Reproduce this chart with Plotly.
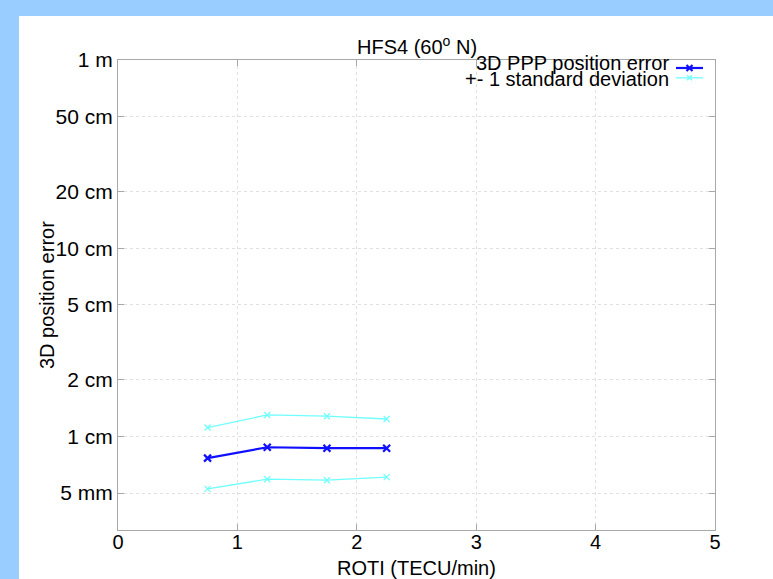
import plotly.graph_objects as go

# Data (ROTI in TECU/min, errors in cm)
roti = [0.75, 1.25, 1.75, 2.25]
mean_err = [0.766, 0.875, 0.865, 0.865]
upper_err = [1.114, 1.30, 1.28, 1.237]
lower_err = [0.526, 0.592, 0.585, 0.607]

ytick_vals = [0.5, 1, 2, 5, 10, 20, 50, 100]
ytick_text = ["5 mm", "1 cm", "2 cm", "5 cm", "10 cm", "20 cm", "50 cm", "1 m"]
xtick_vals = [0, 1, 2, 3, 4, 5]

FONT = "Liberation Sans, Arial, sans-serif"
BLUE = "#1010ff"
CYAN = "#70ffff"
AXC = "#a8a8a8"

fig = go.Figure()
fig.add_trace(go.Scatter(x=roti, y=upper_err, mode="lines+markers",
                         line=dict(color=CYAN, width=1.3),
                         marker=dict(symbol="x-thin", size=6, line=dict(color=CYAN, width=1.3)),
                         showlegend=False))
fig.add_trace(go.Scatter(x=roti, y=lower_err, mode="lines+markers",
                         line=dict(color=CYAN, width=1.3),
                         marker=dict(symbol="x-thin", size=6, line=dict(color=CYAN, width=1.3)),
                         showlegend=False))
fig.add_trace(go.Scatter(x=roti, y=mean_err, mode="lines+markers",
                         line=dict(color=BLUE, width=2.2),
                         marker=dict(symbol="x-thin", size=7, line=dict(color=BLUE, width=2.2)),
                         showlegend=False))

# Legend samples (gnuplot style: sample to the right of text)
leg_x = [0.9347, 0.9799]
leg_mid = [0.9573]
fig.add_trace(go.Scatter(x=leg_x, y=[0.9830] * 2, xaxis="x2", yaxis="y2",
                         mode="lines", line=dict(color=BLUE, width=2.2),
                         showlegend=False))
fig.add_trace(go.Scatter(x=leg_x, y=[0.9621] * 2, xaxis="x2", yaxis="y2",
                         mode="lines", line=dict(color=CYAN, width=1.3),
                         showlegend=False))
fig.add_trace(go.Scatter(x=leg_mid, y=[0.9830], xaxis="x2", yaxis="y2",
                         mode="markers",
                         marker=dict(symbol="x-thin", size=6, line=dict(color=BLUE, width=2.2)),
                         showlegend=False))
fig.add_trace(go.Scatter(x=leg_mid, y=[0.9621], xaxis="x2", yaxis="y2",
                         mode="markers",
                         marker=dict(symbol="x-thin", size=5, line=dict(color=CYAN, width=1.3)),
                         showlegend=False))

fig.update_layout(
    width=773, height=579,
    margin=dict(l=118, r=58, t=60, b=49),
    paper_bgcolor="#99ccff",
    plot_bgcolor="white",
    font=dict(family=FONT, size=20, color="black"),
    showlegend=False,
    xaxis=dict(range=[0, 5], tickvals=xtick_vals, ticks="inside", ticklen=6,
               tickcolor=AXC, showline=True, linecolor=AXC, linewidth=1, mirror="ticks",
               showgrid=True, gridcolor="#e0e0e0", griddash="dot", gridwidth=1,
               zeroline=False, tickfont=dict(size=20), ticklabelstandoff=-6),
    yaxis=dict(type="log", range=[-0.4976, 2], tickvals=ytick_vals, ticktext=ytick_text,
               ticks="inside", ticklen=6, tickcolor=AXC, showline=True, linecolor=AXC,
               linewidth=1, mirror="ticks", showgrid=True, gridcolor="#e0e0e0",
               griddash="dot", gridwidth=1, zeroline=False, tickfont=dict(size=21)),
    xaxis2=dict(overlaying="x", range=[0, 1], visible=False, fixedrange=True),
    yaxis2=dict(overlaying="y", range=[0, 1], visible=False, fixedrange=True),
    shapes=[dict(type="rect", xref="paper", yref="paper",
                 x0=-0.1658, x1=1.1, y0=-0.11, y1=1.0936,
                 fillcolor="white", line=dict(width=0), layer="below")],
    annotations=[
        dict(text="HFS4 (60<sup>o</sup> N)", xref="paper", yref="paper", x=0.5, y=1.0,
             xanchor="center", yanchor="bottom", showarrow=False, yshift=0,
             font=dict(size=20)),
        dict(text="3D PPP position error", xref="paper", yref="paper", x=0.9263, y=0.9936,
             xanchor="right", yanchor="middle", showarrow=False, font=dict(size=20)),
        dict(text="+- 1 standard deviation", xref="paper", yref="paper", x=0.9263, y=0.9596,
             xanchor="right", yanchor="middle", showarrow=False, font=dict(size=20)),
        dict(text="3D position error", xref="paper", yref="paper", x=-0.1189, y=0.5,
             xanchor="center", yanchor="middle", textangle=-90, showarrow=False,
             font=dict(size=20)),
        dict(text="ROTI (TECU/min)", xref="paper", yref="paper", x=0.5, y=-0.0809,
             xanchor="center", yanchor="middle", showarrow=False, font=dict(size=20)),
    ],
)

fig.write_html("out.html", config={"displayModeBar": False},
               post_script="document.body.style.margin='0';document.body.style.padding='0';")
